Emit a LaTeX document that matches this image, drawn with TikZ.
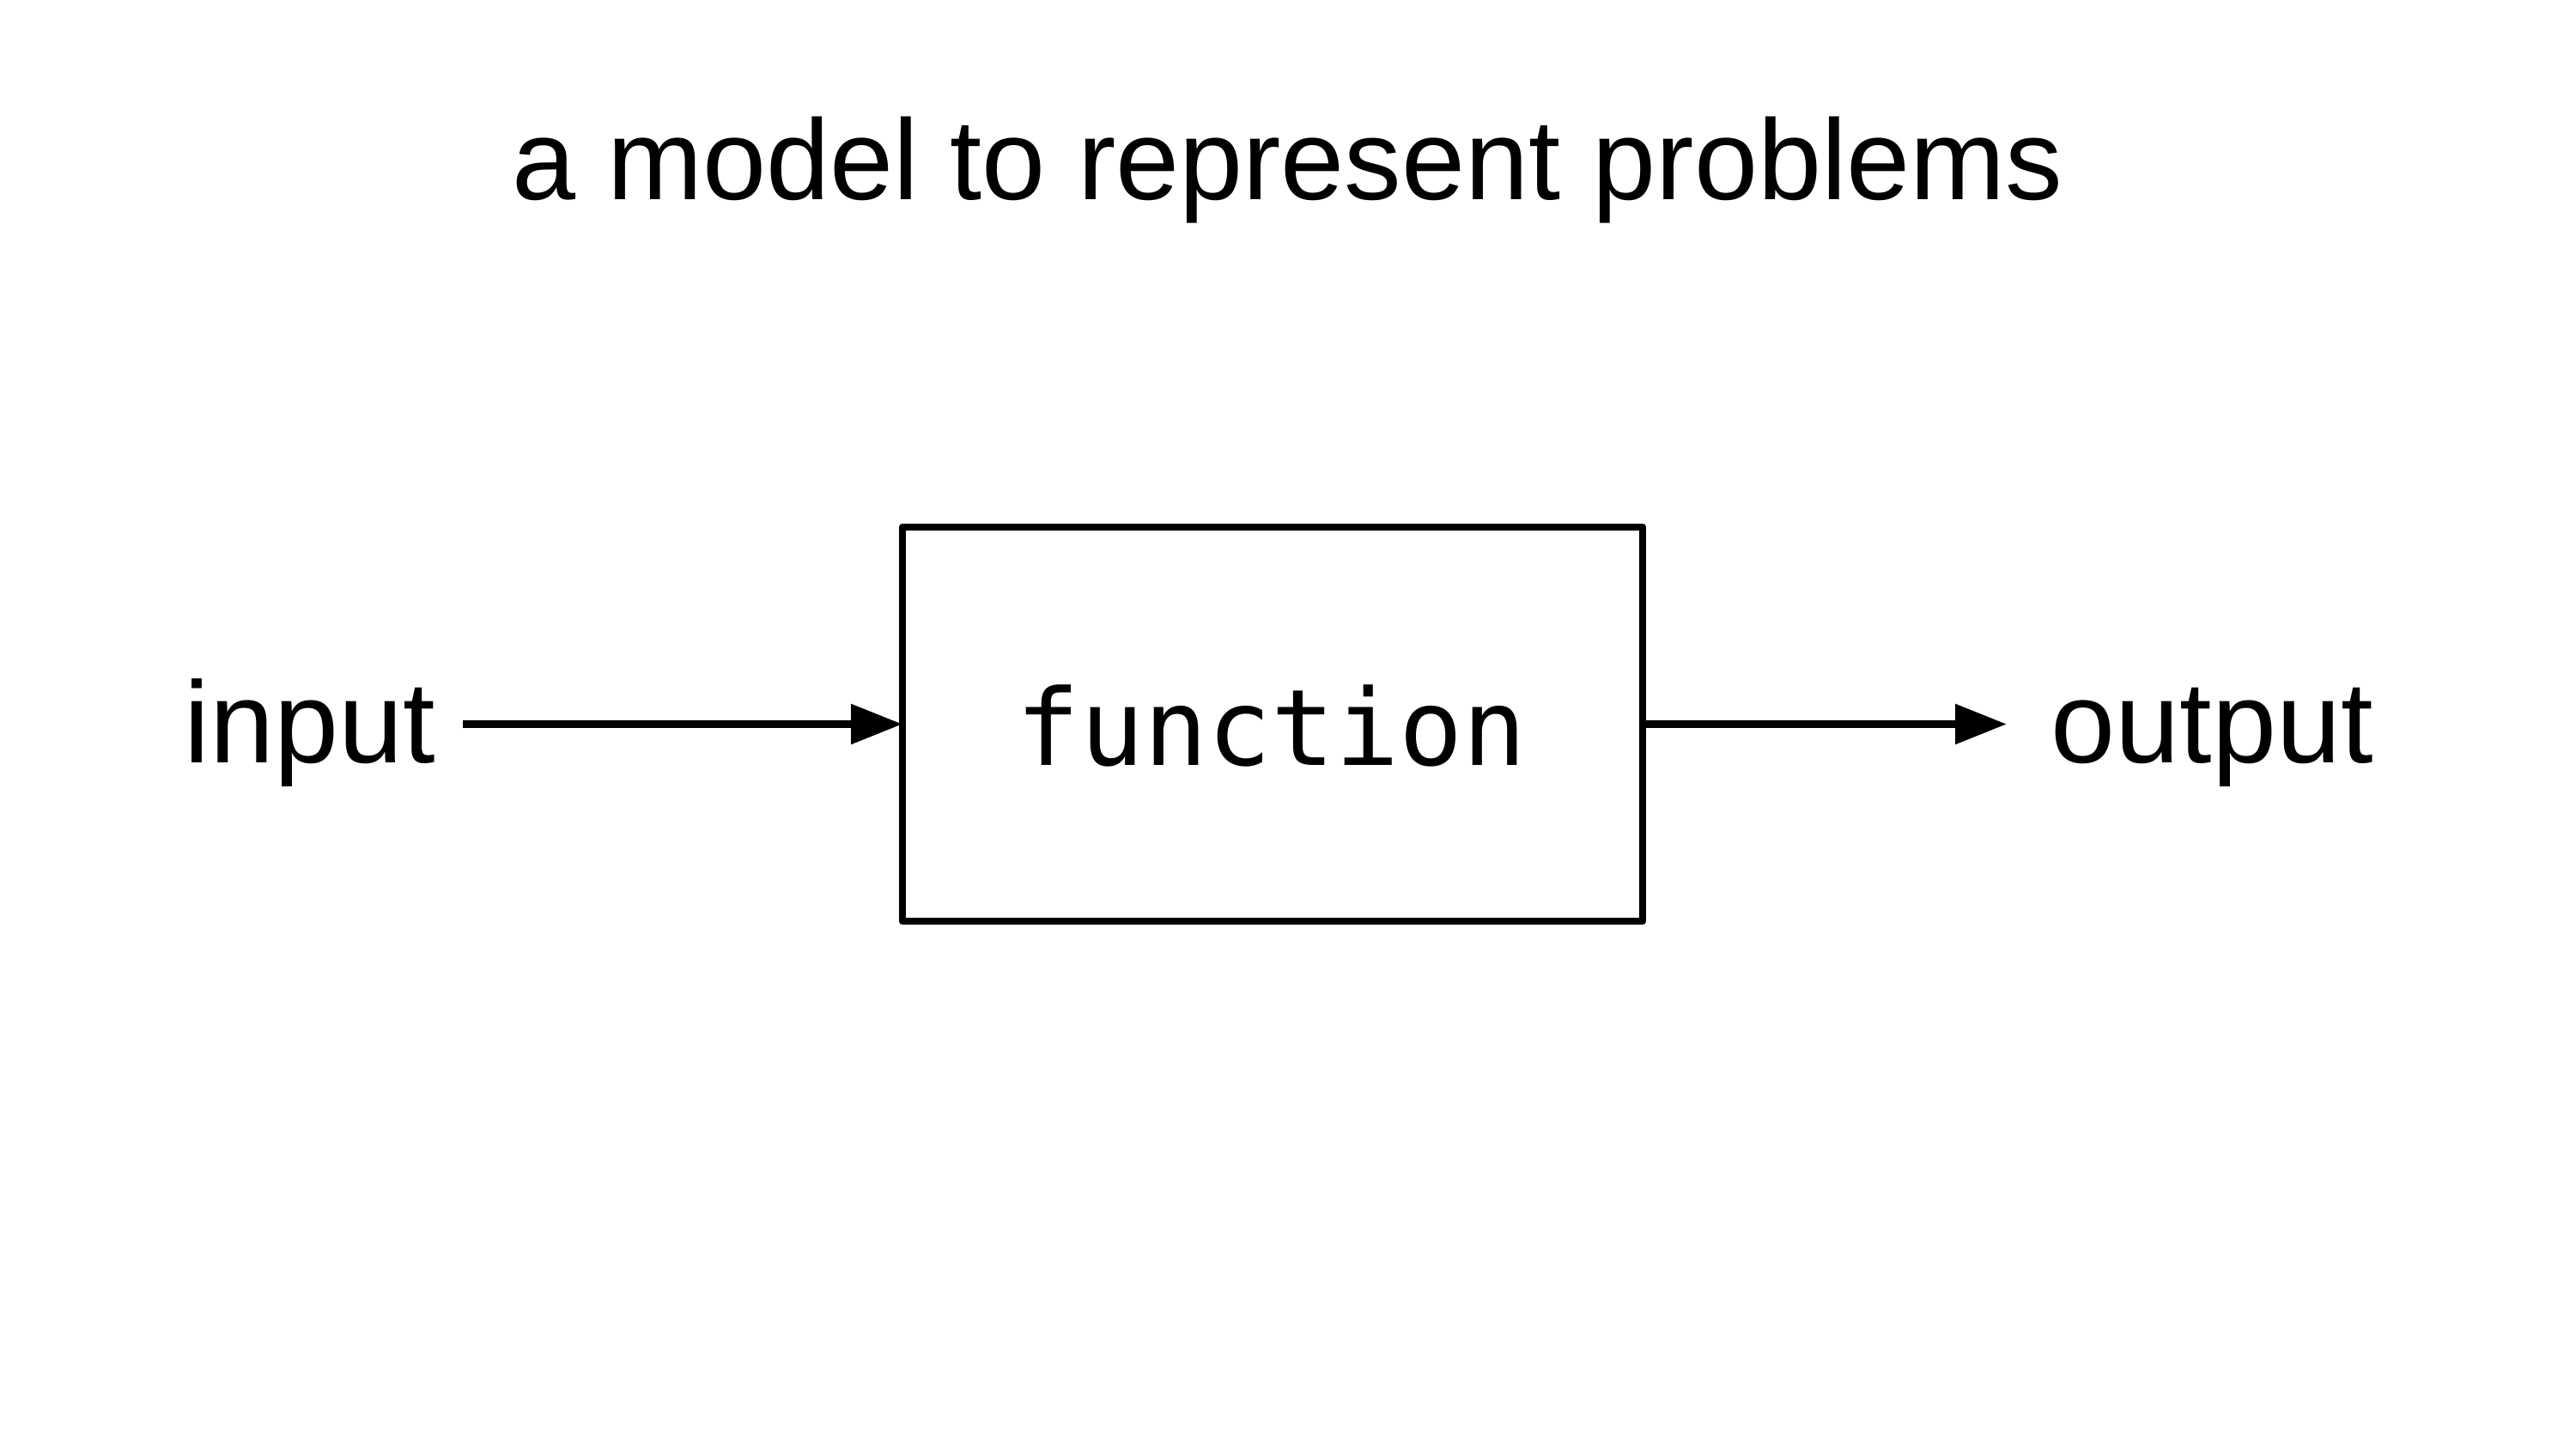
\documentclass[tikz,border=0pt]{standalone}
\usepackage{fontspec}
\setmainfont{Liberation Sans}
\newfontfamily\codefont{DejaVu Sans Mono}
\usetikzlibrary{arrows.meta}
\tikzset{
  label text/.style={inner sep=0pt, outer sep=0pt, anchor=base, font=\fontsize{38.4pt}{46pt}\selectfont},
  title text/.style={inner sep=0pt, outer sep=0pt, anchor=base, font=\fontsize{37.9pt}{46pt}\selectfont},
  code text/.style={inner sep=0pt, outer sep=0pt, anchor=base, font=\codefont\fontsize{35.1pt}{42pt}\selectfont},
  fbox/.style={draw, line width=2.5pt, line join=round, inner sep=0pt, outer sep=0pt, minimum width=8.62cm, minimum height=4.59cm},
  flow/.style={line width=2.5pt, -{Triangle[length=0.6cm, width=0.45cm]}}
}
\begin{document}
\begin{tikzpicture}
\useasboundingbox (0,0) rectangle (30,16.88);
\node[title text] (title) at (14.995,14.55) {a model to represent problems};
\node[fbox] (box) at (14.82,8.445) {};
\node[code text] (fn) at (14.81,7.96) {function};
\node[label text] (in) at (3.61,8.00) {input};
\node[label text] (out) at (25.76,8.00) {output};
\coordinate (instart) at (5.39,8.445);
\coordinate (outend) at (23.37,8.445);
\draw[flow] (instart) -- (box.west);
\draw[flow] (box.east) -- (outend);
\end{tikzpicture}
\end{document}
